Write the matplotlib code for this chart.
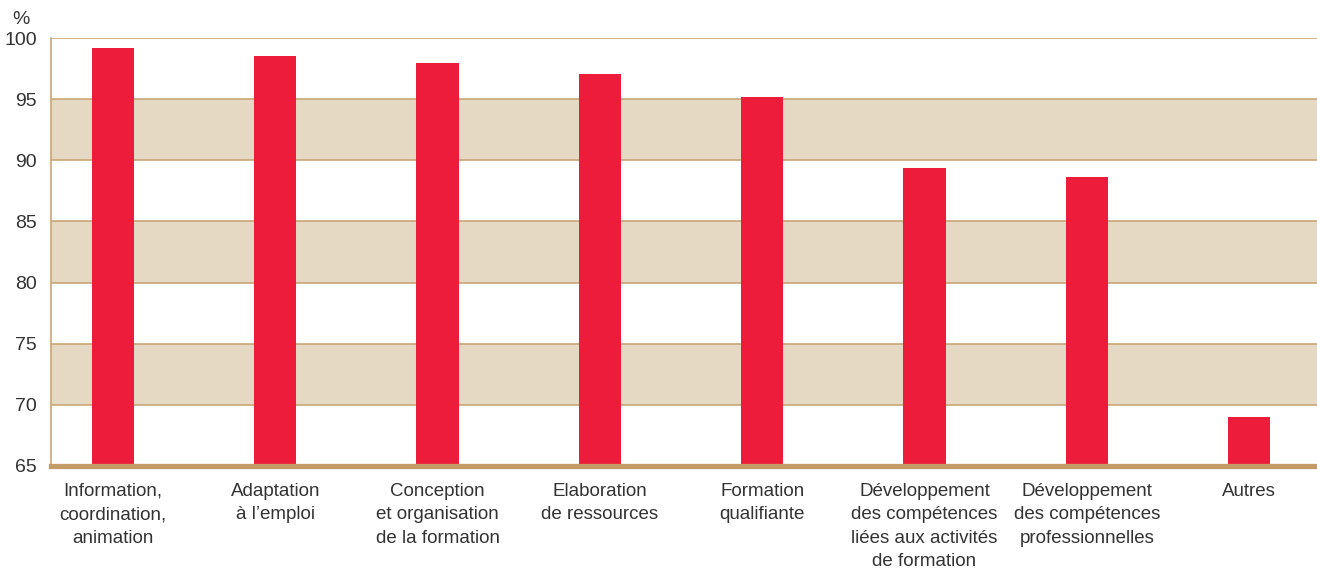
import numpy as np
import matplotlib.pyplot as plt

categories = ["Information,\ncoordination,\nanimation", "Adaptation\nà l’emploi",
              "Conception\net organisation\nde la formation", "Elaboration\nde ressources",
              "Formation\nqualifiante", "Développement\ndes compétences\nliées aux activités\nde formation",
              "Développement\ndes compétences\nprofessionnelles", "Autres"]
values = [99.2, 98.5, 97.95, 97.05, 95.15, 89.4, 88.6, 69.0]
yticks = [65, 70, 75, 80, 85, 90, 95, 100]

plt.rcParams['font.family'] = ['Liberation Sans', 'DejaVu Sans']
txt = '#333333'

fig = plt.figure(figsize=(13.17, 5.68), dpi=100)
ax = fig.add_axes([0.0387, 0.1796, 0.9613, 0.7534])

# bandes beiges
for lo in [70, 80, 90]:
    ax.axhspan(lo, lo + 5, color='#e5d9c3', zorder=0, lw=0)
for y in yticks[1:]:
    ax.axhline(y, color='#c9a677', lw=1.2, zorder=1)

x = np.arange(len(categories))
ax.bar(x, np.array(values) - 65, bottom=65, width=0.26, color='#ee1c3b', zorder=2)
ax.axhline(65, color='#c49b66', lw=3.8, zorder=3, clip_on=False)

ax.set_xlim(-0.382, 7.418)
ax.set_ylim(65, 100)
ax.set_yticks(yticks)
ax.set_yticklabels([str(v) for v in yticks], fontsize=14, color=txt)
ax.set_xticks(x)
ax.set_xticklabels(categories, fontsize=13.5, color=txt, linespacing=1.5, va='top')
ax.tick_params(length=0, pad=10)
ax.tick_params(axis='x', pad=12)
for s in ['top', 'right', 'bottom']:
    ax.spines[s].set_visible(False)
ax.spines['left'].set_color('#c9a677')
ax.spines['left'].set_linewidth(1.2)
fig.text(21 / 1317, 1 - 19 / 568, '%', ha='center', va='center', fontsize=14, color=txt)

fig.savefig('out.png', dpi=100)
